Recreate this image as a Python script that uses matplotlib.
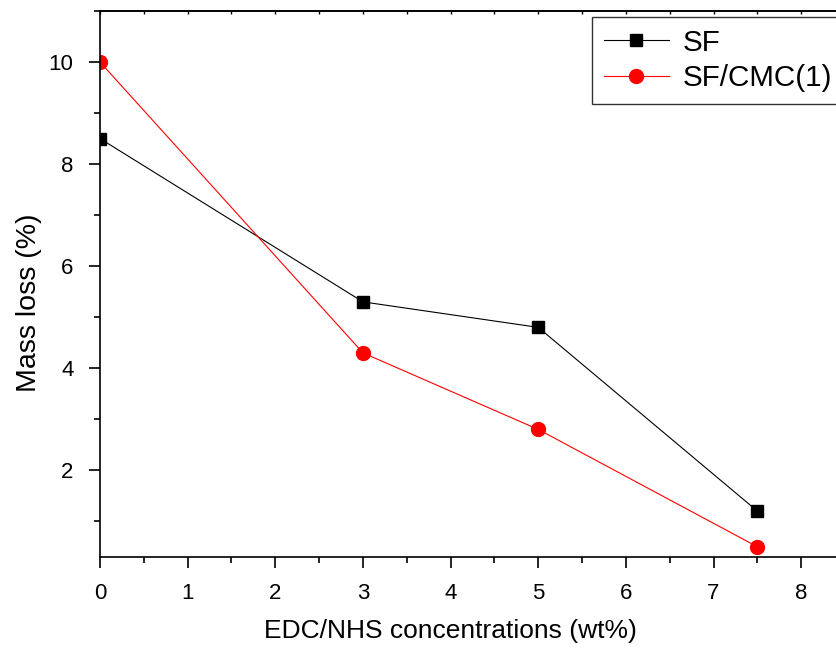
import matplotlib.pyplot as plt
from matplotlib.ticker import MultipleLocator

plt.rcParams['font.family'] = ['Liberation Sans', 'DejaVu Sans']

# 数据
conc = [0, 3, 5, 7.5]
sf = [8.5, 5.3, 4.8, 1.2]
sf_cmc = [10.0, 4.3, 2.8, 0.5]

fig = plt.figure(figsize=(8.36, 6.48), dpi=100)
# 右侧被裁掉，坐标轴延伸到画布外
ax = fig.add_axes([100 / 836, 1 - 557 / 648, 745 / 836, 546 / 648])

ax.plot(conc, sf, color='black', lw=0.8, marker='s', ms=9, label='SF')
ax.plot(conc, sf_cmc, color='red', lw=0.8, marker='o', ms=10, label='SF/CMC(1)')

ax.set_xlim(0, 8.5)
ax.set_ylim(0.3, 11)
ax.xaxis.set_major_locator(MultipleLocator(1))
ax.xaxis.set_minor_locator(MultipleLocator(0.5))
ax.yaxis.set_major_locator(MultipleLocator(2))
ax.yaxis.set_minor_locator(MultipleLocator(1))
ax.tick_params(which='major', direction='out', length=8, width=1.2, labelsize=16)
ax.tick_params(which='minor', direction='out', length=4, width=1.2)
ax.tick_params(axis='x', pad=11)
ax.tick_params(axis='y', pad=11)
for sp in ax.spines.values():
    sp.set_linewidth(1.2)
ax.spines['right'].set_visible(False)

# 顶部短刻度朝内
top = ax.secondary_xaxis('top')
top.xaxis.set_major_locator(MultipleLocator(0.5))
top.tick_params(direction='in', length=2.5, width=1.0, labeltop=False)
top.spines['top'].set_linewidth(1.2)

ax.set_xlabel('EDC/NHS concentrations (wt%)', fontsize=19)
ax.set_ylabel('Mass loss (%)', fontsize=20.5)
ax.xaxis.set_label_coords(0.47, -0.114)
ax.yaxis.set_label_coords(-0.078, 0.465)

leg = ax.legend(loc='upper left', bbox_to_anchor=(592 / 836, 1 - 17 / 648),
                bbox_transform=fig.transFigure, fontsize=21.3, frameon=True,
                fancybox=False, edgecolor='black', borderaxespad=0,
                handlelength=2.2, handletextpad=0.45, borderpad=0.4,
                labelspacing=0.25)
leg.get_frame().set_linewidth(1.0)

fig.savefig('out.png', dpi=100)
